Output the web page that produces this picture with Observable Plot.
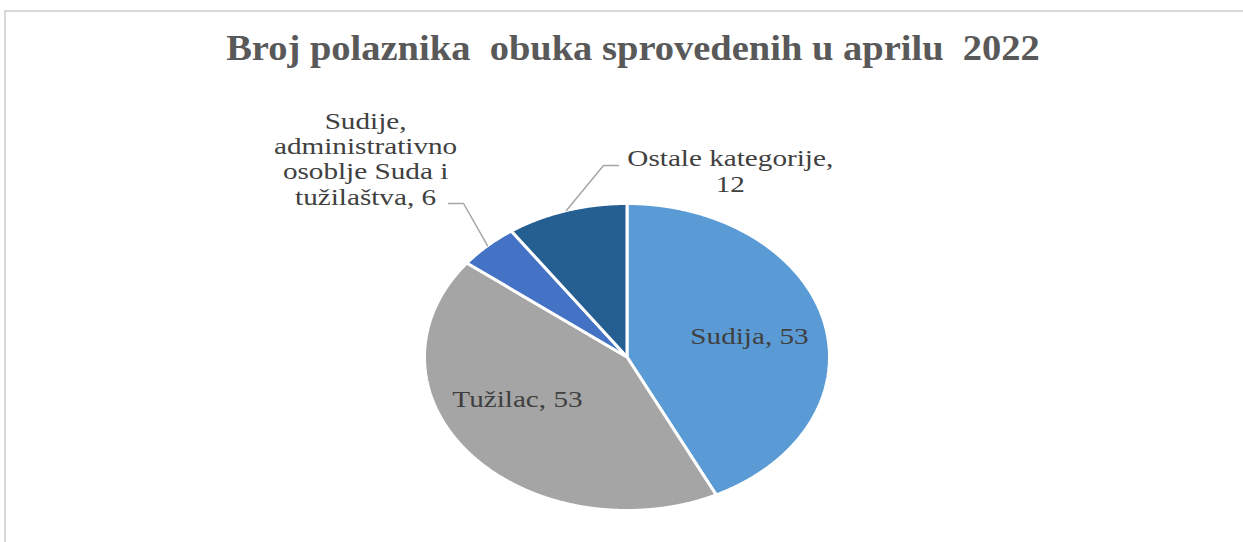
<!DOCTYPE html>
<html>
<head>
<meta charset="utf-8">
<script src="https://cdn.jsdelivr.net/npm/d3@7"></script>
<script src="https://cdn.jsdelivr.net/npm/@observablehq/plot@0.6"></script>
<style>
  html, body { margin: 0; padding: 0; background: #fff; }
  #wrap { position: relative; width: 1243px; height: 542px; overflow: hidden; }
  #frame { position: absolute; left: 4px; top: 10px; width: 1260px; height: 560px;
           border-left: 2px solid #d9d9d9; border-top: 2px solid #d9d9d9; pointer-events: none; }
  #title { height: 80px; box-sizing: border-box; padding-top: 31px; position: relative; }
  #title span { position: absolute; left: 633px; top: 31px; transform: translateX(-50%) scaleX(1.1);
           font-family: "Liberation Serif", "Times New Roman", serif;
           font-weight: bold; font-size: 35px; line-height: 1; color: #595959; white-space: pre; }
  #chart svg { display: block; }
  #chart svg text, #chart svg tspan { font-family: "Liberation Serif", "Times New Roman", serif !important; }
</style>
</head>
<body>
<div id="wrap">
  <div id="frame"></div>
  <div id="title"><span>Broj polaznika  obuka sprovedenih u aprilu  2022</span></div>
  <div id="chart"></div>
</div>
<script>
// ---- data ----
const categories = ["Sudija", "Tužilac", "Sudije, administrativno osoblje Suda i tužilaštva", "Ostale kategorije"];
const values = [53, 53, 6, 12];
const labelTexts = ["Sudija, 53", "Tužilac, 53", "Sudije,\nadministrativno\nosoblje Suda i\ntužilaštva, 6", "Ostale kategorije,\n12"];

// ---- styles / layout (unit ellipse coordinates) ----
const colors = ["#5b9bd5", "#a5a5a5", "#4472c4", "#255e91"];
const labelPos = [[0.605, 0.140], [-0.541, -0.270], [-1.291, 1.293], [0.510, 1.212]];
const leaderPts = [null, null, [[-0.807, 1.0], [-0.881, 1.0]], [[-0.116, 1.248], [-0.042, 1.248]]];
const textStretch = 1.27;

const arcs = d3.pie().sort(null).value(d => d)(values);

const slices = arcs.map((a, i) => {
  const pts = [{x: 0, y: 0}];
  const n = Math.max(2, Math.ceil((a.endAngle - a.startAngle) / 0.005));
  for (let k = 0; k <= n; k++) {
    const t = a.startAngle + (a.endAngle - a.startAngle) * k / n;
    pts.push({x: Math.sin(t), y: Math.cos(t)});
  }
  return pts;
});

const labels = labelTexts.map((t, i) => ({text: t, x: labelPos[i][0], y: labelPos[i][1]}));

const leaders = [];
arcs.forEach((a, i) => {
  if (!leaderPts[i]) return;
  const m = (a.startAngle + a.endAngle) / 2;
  leaders.push({id: i, x: Math.sin(m), y: Math.cos(m)});
  leaderPts[i].forEach(p => leaders.push({id: i, x: p[0], y: p[1]}));
});

const chart = Plot.plot({
  width: 1243,
  height: 462,
  margin: 0,
  x: {domain: [-1, 1], range: [424, 829], axis: null},
  y: {domain: [-1, 1], range: [430, 123], axis: null},
  marks: [
    ...slices.map((pts, i) => Plot.line(pts, {
      x: "x", y: "y", fill: colors[i], stroke: "white", strokeWidth: 3,
      strokeLinejoin: "miter", curve: "linear-closed"
    })),
    Plot.line(leaders, {x: "x", y: "y", z: "id", stroke: "#a6a6a6", strokeWidth: 1.5}),
    Plot.text(labels, {
      x: "x", y: "y", text: "text", fontSize: 23, lineHeight: 1.1,
      fontFamily: "Liberation Serif", fill: "#404040", textAnchor: "middle"
    })
  ]
});
document.getElementById("chart").appendChild(chart);

// horizontal stretch of the label glyphs (as in the reference), around each label's anchor
const xs = chart.scale("x");
chart.querySelectorAll('g[aria-label="text"] > text').forEach((t, i) => {
  const px = xs.apply(labels[i].x);
  const T = t.getAttribute("transform") || "";
  t.setAttribute("transform", `translate(${px},0) scale(${textStretch},1) translate(${-px},0) ${T}`);
});
</script>
</body>
</html>
